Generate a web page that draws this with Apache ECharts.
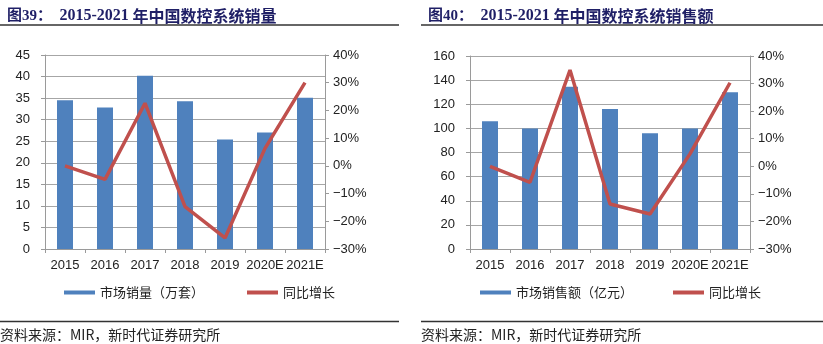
<!DOCTYPE html>
<html><head><meta charset="utf-8">
<script src="https://cdn.jsdelivr.net/npm/echarts@6/dist/echarts.min.js"></script>
<style>html,body{margin:0;padding:0;background:#fff}#c{width:823px;height:344px}</style>
</head><body><div id="c"></div>
<script>
const categories = ['2015','2016','2017','2018','2019','2020E','2021E'];
const salesVolume = [34.5, 32.8, 40.2, 34.3, 25.4, 27.0, 35.1];
const volumeGrowth = [0, -4.9, 22.6, -14.7, -26, 6.3, 30];
const salesValue = [106, 100, 134.5, 116, 96, 100, 130];
const valueGrowth = [0, -5.8, 34.9, -13.7, -17.3, 4.5, 30.3];
const leftTicks = {min: 0, max: 45, interval: 5};
const rightTicks = {min: 0, max: 160, interval: 20};
const pctTicks = {min: -30, max: 40, interval: 10};
const titleNums = ['图39：', '图40：'];
const titleYears = '2015-2021';
const titleTexts = ['年中国数控系统销量', '年中国数控系统销售额'];
const barNames = ['市场销量（万套）', '市场销售额（亿元）'];
const lineName = '同比增长';
const sourceText = '资料来源：MIR，新时代证券研究所';

const BLUE = '#4f81bd', RED = '#c0504d', AX = '#9a9a9a', TXT = '#222';
const FONT = '"Liberation Sans", Arial, sans-serif';
const CJK = '"Noto Sans CJK SC", sans-serif';
const SERIF = '"Liberation Serif", "Noto Sans CJK SC", serif';
const NAVY = '#1f1f66';

function xAx(gi){return {type:'category', gridIndex:gi, data:categories,
  axisLine:{lineStyle:{color:AX}}, axisTick:{show:true, alignWithLabel:false, length:4, lineStyle:{color:AX}},
  axisLabel:{color:TXT, fontSize:13, fontFamily:FONT, margin:10, interval:0}};}
function yL(gi,t){return {type:'value', gridIndex:gi, min:t.min, max:t.max, interval:t.interval, position:'left',
  axisLine:{show:true, lineStyle:{color:AX}}, axisTick:{show:true, length:4, lineStyle:{color:AX}},
  splitLine:{show:true, lineStyle:{color:'#a6a6a6', width:1}},
  axisLabel:{color:TXT, fontSize:13, fontFamily:FONT, margin:15}};}
function yR(gi){return {type:'value', gridIndex:gi, min:pctTicks.min, max:pctTicks.max, interval:pctTicks.interval, position:'right',
  axisLine:{show:true, lineStyle:{color:AX}}, axisTick:{show:true, length:4, lineStyle:{color:AX}},
  splitLine:{show:false},
  axisLabel:{color:TXT, fontSize:13, fontFamily:FONT, margin:8, formatter:v => (v<0?'\u2212'+(-v):v)+'%'}};}

function titleOpt(i, left){
  return {text:'{a|'+titleNums[i]+'}  {b|'+titleYears+'} {c|'+titleTexts[i]+'}', left:left, top:3,
    textStyle:{fontSize:15, fontWeight:'bold', color:NAVY, fontFamily:SERIF,
      rich:{a:{fontSize:15, fontWeight:'bold', color:NAVY, fontFamily:SERIF},
            b:{fontSize:16, fontWeight:'bold', color:NAVY, fontFamily:SERIF},
            c:{fontSize:16, fontWeight:'bold', color:NAVY, fontFamily:CJK}}}};
}

const chart = echarts.init(document.getElementById('c'));
chart.setOption({
  animation:false,
  title:[titleOpt(0, 2), titleOpt(1, 423)],
  grid:[
    {left:45, top:55, width:280, height:194},
    {left:470, top:56, width:280, height:193}
  ],
  xAxis:[xAx(0), xAx(1)],
  yAxis:[yL(0,leftTicks), yR(0), yL(1,rightTicks), yR(1)],
  legend:[
    {left:64, top:286, padding:0, itemWidth:31, itemHeight:4, itemGap:43, textStyle:{fontSize:13, color:TXT, fontFamily:CJK},
     data:[{name:barNames[0], icon:'rect'}, {name:lineName, icon:'rect', itemStyle:{color:RED}}]},
    {left:480, top:286, padding:0, itemWidth:31, itemHeight:4, itemGap:40, textStyle:{fontSize:13, color:TXT, fontFamily:CJK},
     data:[{name:barNames[1], icon:'rect'}, {name:lineName, icon:'rect', itemStyle:{color:RED}}]}
  ],
  series:[
    {name:barNames[0], type:'bar', xAxisIndex:0, yAxisIndex:0, data:salesVolume, barWidth:16, itemStyle:{color:BLUE}},
    {name:lineName, type:'line', xAxisIndex:0, yAxisIndex:1, data:volumeGrowth, symbol:'none', lineStyle:{color:RED, width:3.5}, itemStyle:{color:RED}},
    {name:barNames[1], type:'bar', xAxisIndex:1, yAxisIndex:2, data:salesValue, barWidth:16, itemStyle:{color:BLUE}},
    {name:lineName, type:'line', xAxisIndex:1, yAxisIndex:3, data:valueGrowth, symbol:'none', lineStyle:{color:RED, width:3.5}, itemStyle:{color:RED}}
  ],
  graphic:[
    {type:'line', shape:{x1:0, y1:25, x2:399, y2:25}, style:{stroke:'#333', lineWidth:1.5}},
    {type:'line', shape:{x1:421, y1:25, x2:823, y2:25}, style:{stroke:'#333', lineWidth:1.5}},
    {type:'line', shape:{x1:0, y1:321.5, x2:399, y2:321.5}, style:{stroke:'#333', lineWidth:1.5}},
    {type:'line', shape:{x1:421, y1:321.5, x2:823, y2:321.5}, style:{stroke:'#333', lineWidth:1.5}},
    {type:'text', left:0, top:328, style:{text:sourceText, fontSize:14, fill:TXT, fontFamily:CJK}},
    {type:'text', left:421, top:328, style:{text:sourceText, fontSize:14, fill:TXT, fontFamily:CJK}}
  ]
});
</script></body></html>
